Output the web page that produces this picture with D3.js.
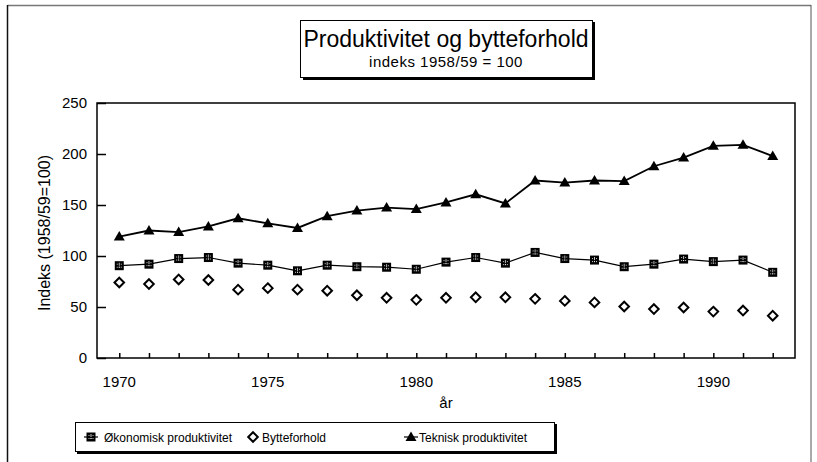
<!DOCTYPE html>
<html>
<head>
<meta charset="utf-8">
<script src="https://cdn.jsdelivr.net/npm/d3@7/dist/d3.min.js"></script>
<style>
  body { margin: 0; background: #fff; }
  svg { display: block; font-family: "Liberation Sans", Arial, sans-serif; }
</style>
</head>
<body>
<script>

/* Data */

var years = ["1970", "1971", "1972", "1973", "1974", "1975", "1976", "1977", "1978", "1979", "1980",
             "1981", "1982", "1983", "1984", "1985", "1986", "1987", "1988", "1989", "1990", "1991", "1992"];

var teknisk = [119, 125, 123.5, 129, 137, 132, 127.5, 139, 144.5, 147.5, 146, 152.5,
               160.5, 151.5, 174, 172, 174, 173.5, 188, 196.5, 208, 209, 198];

var okonomisk = [90.5, 92, 97.5, 98.5, 93, 91, 85.5, 91, 89.5, 89, 87, 94,
                 98.5, 93, 103.5, 97.5, 96, 89.5, 92, 97, 94.5, 96, 84];

var bytteforhold = [74, 72.5, 77, 76.5, 67, 68.5, 67, 66, 61.5, 59, 57, 59,
                    59.5, 59.5, 58, 56, 54.5, 50.5, 48, 49.5, 45.5, 46.5, 41.5];

var yTicks = [0, 50, 100, 150, 200, 250];
var xLabels = ["1970", "1975", "1980", "1985", "1990"];

var title = "Produktivitet og bytteforhold";
var subtitle = "indeks 1958/59 = 100";
var yTitle = "Indeks (1958/59=100)";
var xTitle = "år";
var legendNames = ["Økonomisk produktivitet", "Bytteforhold", "Teknisk produktivitet"];


/* Setup */

var width = 817, height = 462;
var plot = {left: 97, right: 795, top: 103, bottom: 358};

var svg = d3.select("body").append("svg")
    .attr("width", width)
    .attr("height", height);

// outer frame
svg.append("line").attr("x1", 7.5).attr("y1", 5.5).attr("x2", 811).attr("y2", 5.5)
    .attr("stroke", "#777").attr("stroke-width", 1.5);
svg.append("line").attr("x1", 7.5).attr("y1", 5).attr("x2", 7.5).attr("y2", height)
    .attr("stroke", "#111").attr("stroke-width", 1.5);
svg.append("line").attr("x1", 811).attr("y1", 5).attr("x2", 811).attr("y2", height)
    .attr("stroke", "#555").attr("stroke-width", 1);

var x = d3.scalePoint()
    .domain(years)
    .range([plot.left, plot.right])
    .padding(0.75);

var y = d3.scaleLinear()
    .domain([0, 250])
    .range([plot.bottom, plot.top]);


/* Title box */

var tb = svg.append("g");
tb.append("rect").attr("x", 303).attr("y", 22).attr("width", 292).attr("height", 58).attr("fill", "#000");
tb.append("rect").attr("x", 300.5).attr("y", 20.5).attr("width", 292).attr("height", 57)
    .attr("fill", "#fff").attr("stroke", "#000").attr("stroke-width", 1);
tb.append("text").attr("x", 446).attr("y", 47).attr("text-anchor", "middle")
    .attr("font-size", 23).text(title);
tb.append("text").attr("x", 446).attr("y", 67).attr("text-anchor", "middle")
    .attr("font-size", 15).attr("letter-spacing", 0.5).text(subtitle);


/* Axes */

// plot frame
svg.append("rect")
    .attr("x", plot.left).attr("y", plot.top)
    .attr("width", plot.right - plot.left).attr("height", plot.bottom - plot.top)
    .attr("fill", "none").attr("stroke", "#000").attr("stroke-width", 1.5);

var yAxis = svg.append("g")
    .attr("transform", "translate(" + plot.left + ",0)")
    .call(d3.axisRight(y).tickValues(yTicks).tickSize(9).tickFormat(""));
yAxis.select(".domain").remove();
yAxis.selectAll("line").attr("stroke-width", 1.5);

svg.selectAll(".ylab")
    .data(yTicks)
    .enter().append("text")
    .attr("class", "ylab")
    .attr("x", 87)
    .attr("y", function(d) { return y(d) + 5; })
    .attr("text-anchor", "end")
    .attr("font-size", 15)
    .text(function(d) { return d; });

var xAxis = svg.append("g")
    .attr("transform", "translate(0," + plot.bottom + ")")
    .call(d3.axisTop(x).tickSize(5).tickFormat(""));
xAxis.select(".domain").remove();
xAxis.selectAll("line").attr("stroke-width", 1.5);

svg.selectAll(".xlab")
    .data(xLabels)
    .enter().append("text")
    .attr("class", "xlab")
    .attr("x", function(d) { return x(d); })
    .attr("y", 387)
    .attr("text-anchor", "middle")
    .attr("font-size", 15)
    .text(function(d) { return d; });

svg.append("text")
    .attr("x", 446).attr("y", 408)
    .attr("text-anchor", "middle")
    .attr("font-size", 15)
    .text(xTitle);

svg.append("text")
    .attr("transform", "translate(50,233) rotate(-90)")
    .attr("text-anchor", "middle")
    .attr("font-size", 16)
    .text(yTitle);


/* Series */

var line = d3.line()
    .x(function(d, i) { return x(years[i]); })
    .y(function(d) { return y(d); });

svg.append("path").datum(okonomisk)
    .attr("d", line).attr("fill", "none").attr("stroke", "#000").attr("stroke-width", 1.2);
svg.append("path").datum(teknisk)
    .attr("d", line).attr("fill", "none").attr("stroke", "#000").attr("stroke-width", 1.8);

function squareMark(g) {
    g.append("rect").attr("x", -4.5).attr("y", -4.5).attr("width", 9).attr("height", 9).attr("fill", "#000");
    g.append("path").attr("d", "M-2.5,-1.5H2.5M-2.5,1.5H2.5M0,-3V3")
        .attr("stroke", "#fff").attr("stroke-width", 0.8).attr("stroke-dasharray", "1,1");
}
function diamondMark(g) {
    g.append("path").attr("d", "M0,-4.8L4.8,0L0,4.8L-4.8,0Z")
        .attr("fill", "#fff").attr("stroke", "#000").attr("stroke-width", 2);
}
function triangleMark(g) {
    g.append("path").attr("d", "M0,-5.5L5.5,4L-5.5,4Z").attr("fill", "#000");
}

function drawMarks(values, cls, fn) {
    svg.selectAll("." + cls)
        .data(values)
        .enter().append("g")
        .attr("class", cls)
        .attr("transform", function(d, i) { return "translate(" + x(years[i]) + "," + y(d) + ")"; })
        .each(function() { fn(d3.select(this)); });
}

drawMarks(bytteforhold, "mk-b", diamondMark);
drawMarks(okonomisk, "mk-o", squareMark);
drawMarks(teknisk, "mk-t", triangleMark);


/* Legend */

var lg = svg.append("g");
lg.append("rect").attr("x", 77).attr("y", 424).attr("width", 480).attr("height", 30).attr("fill", "#000");
lg.append("rect").attr("x", 75.5).attr("y", 422.5).attr("width", 479).attr("height", 29)
    .attr("fill", "#fff").attr("stroke", "#000").attr("stroke-width", 1);

var legendItems = [
    {name: legendNames[0], mx: 91, tx: 104, fn: squareMark, line: true},
    {name: legendNames[1], mx: 253, tx: 262, fn: diamondMark, line: false},
    {name: legendNames[2], mx: 411, tx: 419, fn: triangleMark, line: true}
];

legendItems.forEach(function(it) {
    var g = lg.append("g").attr("transform", "translate(" + it.mx + ",437)");
    if (it.line) {
        g.append("line").attr("x1", -7).attr("x2", 7).attr("stroke", "#000").attr("stroke-width", 1.2);
    }
    it.fn(g);
    lg.append("text").attr("x", it.tx).attr("y", 441.5)
        .attr("font-size", 12).text(it.name);
});

</script>
</body>
</html>
